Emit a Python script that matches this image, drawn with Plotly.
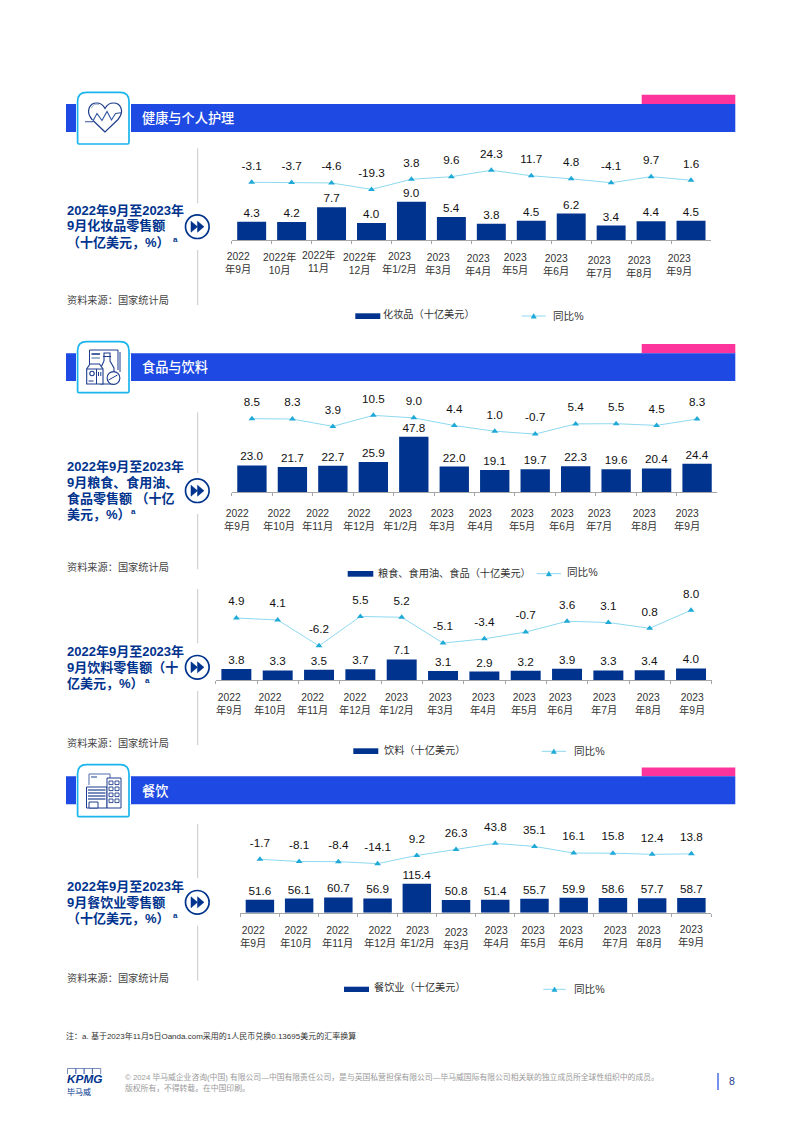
import re
import plotly.graph_objects as go

W, H = 802, 1124

# ---------- data ----------
months = ["2022年9月", "2022年10月", "2022年11月", "2022年12月", "2023年1/2月", "2023年3月",
          "2023年4月", "2023年5月", "2023年6月", "2023年7月", "2023年8月", "2023年9月"]

cosmetics_values = [4.3, 4.2, 7.7, 4.0, 9.0, 5.4, 3.8, 4.5, 6.2, 3.4, 4.4, 4.5]
cosmetics_yoy = [-3.1, -3.7, -4.6, -19.3, 3.8, 9.6, 24.3, 11.7, 4.8, -4.1, 9.7, 1.6]
grain_values = [23.0, 21.7, 22.7, 25.9, 47.8, 22.0, 19.1, 19.7, 22.3, 19.6, 20.4, 24.4]
grain_yoy = [8.5, 8.3, 3.9, 10.5, 9.0, 4.4, 1.0, -0.7, 5.4, 5.5, 4.5, 8.3]
beverage_values = [3.8, 3.3, 3.5, 3.7, 7.1, 3.1, 2.9, 3.2, 3.9, 3.3, 3.4, 4.0]
beverage_yoy = [4.9, 4.1, -6.2, 5.5, 5.2, -5.1, -3.4, -0.7, 3.6, 3.1, 0.8, 8.0]
catering_values = [51.6, 56.1, 60.7, 56.9, 115.4, 50.8, 51.4, 55.7, 59.9, 58.6, 57.7, 58.7]
catering_yoy = [-1.7, -8.1, -8.4, -14.1, 9.2, 26.3, 43.8, 35.1, 16.1, 15.8, 12.4, 13.8]

std_ticks = ["2022<br>年9月", "2022<br>年10月", "2022<br>年11月", "2022<br>年12月", "2023<br>年1/2月",
             "2023<br>年3月", "2023<br>年4月", "2023<br>年5月", "2023<br>年6月", "2023<br>年7月",
             "2023<br>年8月", "2023<br>年9月"]
cosmetics_ticks = ["2022<br>年9月", "2022年<br>10月", "2022年<br>11月", "2022年<br>12月"] + std_ticks[4:]

FONT = "Liberation Sans, Noto Sans CJK SC, sans-serif"
CJK = "Noto Sans CJK SC, sans-serif"
NAVY = "#00338D"
COBALT = "#1E49E2"
PINK = "#FD349C"
CYAN = "#19B5EC"
ICON = "#1D3C8C"
GREY = "#C9C9C9"
TXT = "#111111"

# ---------- panel layout (pixels) ----------
panels = [
    dict(vals=cosmetics_values, yoy=cosmetics_yoy, ticks=cosmetics_ticks,
         x0=231.7, x1=711, base=240, top=150, bs=4.26, v0=-3.1, y0=182.3, ls=0.44,
         tx=[238, 279, 318, 359, 399, 438, 478, 515, 556, 599, 639, 679],
         ty=[262.5, 263.5, 261.5, 263.5, 262.5, 264, 264.5, 263.5, 264.5, 266.5, 266.5, 264.5]),
    dict(vals=grain_values, yoy=grain_yoy, ticks=std_ticks,
         x0=231.7, x1=717.3, base=492, top=392, bs=1.157, v0=8.5, y0=418.7, ls=1.67,
         tx=[237.3, 279.3, 317.7, 359.3, 400.7, 441.7, 480.3, 521.7, 561.7, 599, 644.3, 686.7],
         ty=[519.5] * 12),
    dict(vals=beverage_values, yoy=beverage_yoy, ticks=std_ticks,
         x0=215.7, x1=711.7, base=680, top=590, bs=2.9, v0=4.9, y0=618, ls=2.51,
         tx=[229.3, 270, 312.3, 355, 396.7, 440, 483.3, 524.3, 560.3, 604.3, 648.3, 692.3],
         ty=[703.5] * 12),
    dict(vals=catering_values, yoy=catering_yoy, ticks=std_ticks,
         x0=240.3, x1=711, base=912.7, top=825, bs=0.251, v0=-1.7, y0=859.3, ls=0.35,
         tx=[253, 295.7, 337.3, 380, 417, 455.7, 496, 532.7, 571, 615, 649, 691],
         ty=[936.5, 936.5, 936.5, 936.5, 936.5, 938.5, 936.5, 936.5, 936.5, 936.5, 936.5, 935.5]),
]

px = lambda x: x / W
py = lambda y: 1 - y / H

fig = go.Figure()
layout = dict(width=W, height=H, margin=dict(l=0, r=0, t=0, b=0, pad=0),
              autosize=False, showlegend=False, plot_bgcolor="white", paper_bgcolor="white",
              bargap=0.275, font=dict(family=FONT, color=TXT))

for i, p in enumerate(panels):
    n = i + 1
    xname = "x" if n == 1 else f"x{n}"
    yb = "y" if n == 1 else f"y{n}"
    yl = f"y{n + 10}"
    xkey, ybkey, ylkey = xname.replace("x", "xaxis"), yb.replace("y", "yaxis"), f"yaxis{n + 10}"
    fig.add_trace(go.Bar(x=months, y=p["vals"], xaxis=xname, yaxis=yb,
                         marker=dict(color=NAVY, line=dict(width=0)),
                         text=[f"{v:.1f}" for v in p["vals"]], textposition="outside",
                         textangle=0, constraintext="none", cliponaxis=False,
                         textfont=dict(size=11.7, color=TXT, family=FONT)))
    fig.add_trace(go.Scatter(x=months, y=p["yoy"], xaxis=xname, yaxis=yl, mode="lines+markers",
                             line=dict(color="#8ED8F0", width=1),
                             marker=dict(symbol="triangle-up", size=6, color="#1FA9D6"),
                             cliponaxis=False))
    # value labels sit higher above the line: a transparent larger marker sets the offset
    fig.add_trace(go.Scatter(x=months, y=p["yoy"], xaxis=xname, yaxis=yl, mode="markers+text",
                             marker=dict(size=14, opacity=0),
                             text=[f"{v:.1f}" for v in p["yoy"]], textposition="top center",
                             cliponaxis=False,
                             textfont=dict(size=11.7, color=TXT, family=FONT)))
    dom_y = [py(p["base"]), py(p["top"])]
    layout[xkey] = dict(domain=[px(p["x0"]), px(p["x1"])], anchor=yb, type="category",
                        categoryorder="array", categoryarray=months, range=[-0.5, 11.5],
                        showline=True, linecolor="#A6A6A6", linewidth=1, ticks="outside",
                        ticklen=3, tickcolor="#A6A6A6", tickwidth=1, tickson="boundaries",
                        showticklabels=False, showgrid=False, zeroline=False)
    layout[ybkey] = dict(domain=dom_y, anchor=xname, range=[0, (p["base"] - p["top"]) / p["bs"]],
                         visible=False, showgrid=False, zeroline=False)
    layout[ylkey] = dict(domain=dom_y, anchor=xname, overlaying=yb,
                         range=[p["v0"] + (p["y0"] - p["base"]) / p["ls"],
                                p["v0"] + (p["y0"] - p["top"]) / p["ls"]],
                         visible=False, showgrid=False, zeroline=False)

# ---------- decorative helpers ----------
shapes, annos = [], []


def path_px(d):
    toks = re.findall(r"[MLCQZ]|-?\d+\.?\d*", d)
    out, is_x = [], True
    for t in toks:
        if t.isalpha():
            out.append(t)
        else:
            out.append(f"{px(float(t)):.5f}" if is_x else f"{py(float(t)):.5f}")
            is_x = not is_x
    return " ".join(out)


def path(d, line=ICON, width=1.1, fill=None):
    s = dict(type="path", xref="paper", yref="paper", path=path_px(d),
             line=dict(color=line, width=width))
    if fill:
        s["fillcolor"] = fill
    shapes.append(s)


def rect(x0, y0, x1, y1, fill=None, line=None, width=1):
    shapes.append(dict(type="rect", xref="paper", yref="paper", x0=px(x0), x1=px(x1), y0=py(y0), y1=py(y1),
                       fillcolor=fill or "rgba(0,0,0,0)",
                       line=dict(color=line or "rgba(0,0,0,0)", width=width if line else 0)))


def seg(x0, y0, x1, y1, color=ICON, width=1):
    shapes.append(dict(type="line", xref="paper", yref="paper", x0=px(x0), x1=px(x1), y0=py(y0), y1=py(y1),
                       line=dict(color=color, width=width)))


def circle(cx, cy, r, line=ICON, width=1.1, fill=None):
    shapes.append(dict(type="circle", xref="paper", yref="paper", x0=px(cx - r), x1=px(cx + r),
                       y0=py(cy - r), y1=py(cy + r), line=dict(color=line, width=width),
                       fillcolor=fill or "rgba(0,0,0,0)"))


def text(x, y, s, size=10, color=TXT, anchor="left", family=FONT, weight=400, style="normal"):
    annos.append(dict(xref="paper", yref="paper", x=px(x), y=py(y), text=s, showarrow=False,
                      xanchor=anchor, yanchor="middle", borderpad=0, borderwidth=0,
                      align=anchor if anchor != "middle" else "center",
                      font=dict(size=size, color=color, family=family, weight=weight, style=style)))


# ---------- section bands ----------
bands = [(104, 132, 92.3, 144, "健康与个人护理", 94.7),
         (353.3, 381, 341.7, 392.7, "食品与饮料", 344),
         (776.3, 804.3, 764.7, 816.7, "餐饮", 767.5)]
for b0, b1, i0, i1, title, pk in bands:
    rect(641.7, pk, 735.3, b0, fill=PINK)
    rect(66, b0, 735.3, b1, fill=COBALT)
    rect(76, b0, 131, b1, fill="white")
    path(f"M 79 {i1} L 127.5 {i1} Q 129 {i1} 129 {i1 - 1.5} L 129 {i0 + 9} Q 129 {i0} 120 {i0} L 86.6 {i0} "
         f"Q 77.6 {i0} 77.6 {i0 + 9} L 77.6 {i1 - 1.5} Q 77.6 {i1} 79 {i1} Z",
         line=CYAN, width=1.7, fill="white")
    text(142.3, (b0 + b1) / 2 - 0.3, title, size=13.2, color="white", family=CJK, weight=500)

# heart icon
path("M 105 132 L 92 119.5 C 85 111 90 103 96.5 103 C 100.5 103 103.5 105.5 105 108.5 "
     "C 106.5 105.5 109.5 103 113.5 103 C 120.5 103 125 111 118 119.5 Z", width=1.2)
path("M 85 121.7 L 92.5 121.7 L 97 113.5 L 102 120.5 L 107 111.5 L 111.5 120 L 115.5 113.5 L 121 112.7",
     width=1.1, line="#30549F", fill="white")
path("M 91.5 108 C 93 104.5 96 103.5 99 104.5", line="#7A90C0", width=0.8)

# food icon
path("M 89.5 368 L 89.5 350 L 118 350 L 118 370", width=1)
path("M 120 352 L 120 372", width=1)
seg(91.5, 354, 100, 354, width=1.6)
seg(91.5, 358, 100, 358, width=0.8)
path("M 100.7 384 L 100.7 368 L 104 361 L 104 353 L 110 353 L 110 361 L 114 368 L 114 384 Z", width=1.1, fill="white")
seg(103, 356.5, 111, 356.5)
path("M 86.7 384 L 86.7 369 L 90 364 L 99.5 364 L 103 369 L 103 384 Z", width=1.1, fill="white")
seg(86.7, 369, 103, 369)
seg(96.5, 369, 96.5, 384)
circle(92, 373.5, 2.2)
seg(88.5, 381, 93.5, 381)
seg(98.5, 372, 98.5, 376)
seg(100.8, 372, 100.8, 376)
circle(113.5, 378, 6.4, width=1.1, fill="white")
seg(108.5, 380, 117.5, 375)

# building icon
path("M 89 785 L 89 774 L 110 774 L 110 780", width=1, line="#4F6CAD")
seg(91, 777, 97, 777, width=1.3, color="#4F6CAD")
rect(86.5, 787, 107, 808, fill="white", line=ICON, width=1)
for yy in (790, 793, 796, 799):
    seg(88, yy, 105.5, yy, width=1.4, color="#3D5CA3")
rect(89, 802, 98, 808, fill="white", line=ICON, width=1)
rect(107, 778, 121, 808, fill="white", line=ICON, width=1)
for yy in (781, 787, 793, 799):
    for xx in (109, 115):
        rect(xx, yy, xx + 4, yy + 3.6, line=ICON, width=0.9)

# ---------- left column ----------
left_blocks = [
    (["2022年9月至2023年", "9月化妆品零售额", "（十亿美元，%）"], [210, 226, 242.3], 226.7,
     (148.3, 203.3, 250, 305), 300, (172.5, 240)),
    (["2022年9月至2023年", "9月粮食、食用油、", "食品零售额 （十亿", "美元，%）"], [466.7, 482.7, 498.3, 514.3], 490.7,
     (412.3, 473.3, 514, 569.3), 566.7, (131, 511.7)),
    (["2022年9月至2023年", "9月饮料零售额（十", "亿美元，%）"], [651, 667.3, 683.3], 667.3,
     (589, 643.3, 691, 745), 742.7, (144.5, 680.7)),
    (["2022年9月至2023年", "9月餐饮业零售额", "（十亿美元，%）"], [886, 902, 918], 902.3,
     (824, 878.3, 925.7, 980.7), 977.7, (172.5, 915.7)),
]
for lines, ys, cy, (d0, d1, d2, d3), src_y, (ax, ay) in left_blocks:
    for ln, yy in zip(lines, ys):
        text(66.7, yy, ln, size=13, color=NAVY, weight=700)
    text(ax, ay, "a", size=8, color=NAVY, weight=700)
    seg(197.7, d0, 197.7, d1, color=GREY, width=1)
    seg(197.7, d2, 197.7, d3, color=GREY, width=1)
    circle(197.3, cy, 11.8, line=NAVY, width=1.7, fill="white")
    path(f"M 191 {cy - 5.5} L 197.5 {cy} L 191 {cy + 5.5} Z", line=NAVY, width=0.5, fill=NAVY)
    path(f"M 197.5 {cy - 5.5} L 204 {cy} L 197.5 {cy + 5.5} Z", line=NAVY, width=0.5, fill=NAVY)
    text(66.7, src_y, "资料来源：国家统计局", size=10.2, color="#444444")

# ---------- tick labels ----------
for p in panels:
    for lab, xx, yy in zip(p["ticks"], p["tx"], p["ty"]):
        text(xx, yy, lab, size=10.3, color="#333333", anchor="center")

# ---------- legends ----------
legends = [
    (355.3, 380.3, 313.3, 319, "化妆品（十亿美元）", 382.7, 313.7, 521.7, 545.7, 316, 553.3, 316),
    (347.7, 373.3, 571, 576.7, "粮食、食用油、食品（十亿美元）", 377.7, 573, 536.7, 561, 573.7, 567.3, 571.7),
    (353.3, 378.3, 748.3, 754, "饮料（十亿美元）", 384, 750.3, 541.7, 566, 751.3, 574.3, 751),
    (344, 369, 986.7, 992, "餐饮业（十亿美元）", 374.3, 987.3, 543.3, 565.7, 989.3, 574.3, 989),
]
for rx0, rx1, ry0, ry1, lab, tx, ty, lx0, lx1, ly, t2x, t2y in legends:
    rect(rx0, ry0, rx1, ry1, fill=NAVY)
    text(tx, ty, lab, size=10.2, color="#333333")
    seg(lx0, ly, lx1, ly, color="#8ED8F0", width=1)
    mx = (lx0 + lx1) / 2
    path(f"M {mx - 2.6} {ly + 2.2} L {mx} {ly - 2.4} L {mx + 2.6} {ly + 2.2} Z", line="#1FA9D6", width=0.5, fill="#1FA9D6")
    text(t2x, t2y, "同比%", size=10.6, color="#333333")

# ---------- footer ----------
text(66, 1036, "注：a. 基于2023年11月5日Oanda.com采用的1人民币兑换0.13695美元的汇率换算", size=8, color="#333333")
text(125, 1077, "© 2024 毕马威企业咨询(中国) 有限公司—中国有限责任公司，是与英国私营担保有限公司—毕马威国际有限公司相关联的独立成员所全球性组织中的成员。",
     size=7.8, color="#9a9a9a")
text(125, 1087.5, "版权所有，不得转载。在中国印刷。", size=7.8, color="#9a9a9a")
for k in range(4):
    path(f"M {67.5 + k * 8.3} 1074 L {67.5 + k * 8.3} 1068.5 L {75.8 + k * 8.3} 1068.5 L {75.8 + k * 8.3} 1074",
         line="#3D5CA3", width=0.7)
text(66.5, 1079.3, "KPMG", size=11.8, color=NAVY, weight=700, style="italic")
text(67, 1091, "毕马威", size=8, color=NAVY, family=CJK)
seg(718, 1073, 718, 1090, color=COBALT, width=1.2)
text(729, 1081, "8", size=10.5, color="#1D3C8C")

layout["shapes"] = shapes
layout["annotations"] = annos
fig.update_layout(**layout)
fig.write_html("out.html", config={"displayModeBar": False},
               post_script="document.body.style.margin='0';")
